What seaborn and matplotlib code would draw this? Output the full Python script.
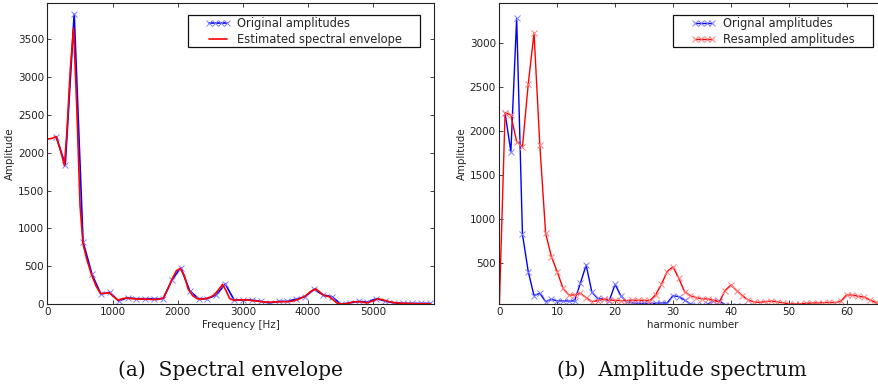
import numpy as np
import pandas as pd
import matplotlib
matplotlib.use("Agg")
import matplotlib.pyplot as plt
from matplotlib.patches import Rectangle
import seaborn as sns

# ---------------- data: (a) spectral envelope ----------------
harm_freq_hz = [137, 273, 410, 546, 683, 819, 956, 1092, 1229, 1365, 1502, 1638,
                1775, 1911, 2048, 2184, 2321, 2457, 2594, 2730, 2867, 3003, 3140,
                3276, 3413, 3549, 3686, 3822, 3959, 4095, 4232, 4368, 4505, 4641,
                4778, 4914, 5051, 5187, 5324, 5460, 5597, 5733, 5870]
orig_amp_a = [2205, 1843, 3832, 824, 393, 132, 155, 40, 83, 70, 70, 70,
              70, 317, 480, 176, 70, 70, 119, 265, 53, 53, 53,
              35, 13, 35, 35, 66, 97, 194, 120, 97, 0, 13,
              35, 26, 70, 40, 13, 10, 8, 8, 8]

env_freq_hz = [0, 70, 132, 200, 260, 300, 350, 400, 450, 500, 545, 600, 680, 750,
               816, 880, 947, 1010, 1084, 1150, 1211, 1300, 1400, 1500, 1600, 1700,
               1780, 1850, 1920, 1980, 2040, 2100, 2160, 2230, 2300, 2400, 2500,
               2560, 2620, 2690, 2740, 2800, 2860, 2950, 3050, 3150, 3250, 3350,
               3450, 3550, 3650, 3750, 3850, 3950, 4050, 4120, 4180, 4250, 4320,
               4380, 4450, 4520, 4600, 4700, 4800, 4900, 5000, 5070, 5150, 5250,
               5350, 5450, 5600, 5750, 5880]
env_amp = [2180, 2190, 2215, 2030, 1830, 2300, 3100, 3650, 2600, 1300, 800, 600,
           380, 230, 140, 140, 150, 100, 50, 70, 80, 70, 65, 65, 60, 60, 80, 200,
           340, 440, 470, 380, 200, 110, 70, 65, 90, 120, 180, 260, 180, 70, 50,
           55, 55, 45, 35, 25, 25, 30, 30, 35, 60, 100, 170, 200, 160, 110, 100,
           60, 10, 0, 5, 30, 30, 15, 40, 70, 55, 30, 15, 10, 5, 3, 3]

# ---------------- data: (b) amplitude spectrum ----------------
harm_num_orig = list(range(1, 44))
orig_amp_b = [2205, 1768, 3284, 830, 405, 132, 159, 64, 90, 72, 72, 72, 72,
              272, 480, 170, 100, 95, 75, 260, 130, 64, 50, 45, 45, 42, 45,
              50, 48, 132, 120, 83, 37, 25, 20, 35, 72, 72, 30, 15, 10, 10, 10]
harm_num_res = list(range(0, 67))
res_amp_b = [0, 2211, 2185, 1882, 1822, 2538, 3114, 1844, 841, 575, 405, 216,
             140, 140, 159, 109, 64, 75, 94, 83, 78, 75, 75, 80, 80, 78, 75,
             140, 261, 405, 461, 330, 177, 132, 110, 95, 95, 80, 60, 189, 253,
             189, 132, 83, 60, 55, 65, 70, 62, 50, 40, 38, 40, 45, 48, 50, 52,
             55, 52, 70, 140, 140, 124, 117, 83, 56, 20]

# ---------------- styling ----------------
sns.set_style("ticks")
plt.rcParams.update({
    "font.family": ["DejaVu Sans"],
    "xtick.direction": "in", "ytick.direction": "in",
    "xtick.top": True, "ytick.right": True,
    "xtick.major.size": 3, "ytick.major.size": 3,
    "xtick.major.width": 0.6, "ytick.major.width": 0.6,
    "xtick.major.pad": 2.5, "ytick.major.pad": 2.5,
    "xtick.labelsize": 7.5, "ytick.labelsize": 7.5,
    "axes.labelsize": 7.4,
    "axes.edgecolor": "#222222", "axes.linewidth": 0.8,
    "xtick.color": "#222222", "ytick.color": "#222222",
})

W, H = 879, 390
fig = plt.figure(figsize=(W / 100, H / 100), dpi=100)

def px_axes(x0, x1, ytop, ybot):
    return [x0 / W, 1 - ybot / H, (x1 - x0) / W, (ybot - ytop) / H]

axA = fig.add_axes(px_axes(47.5, 434, 2.7, 304))
axB = fig.add_axes(px_axes(499.3, 886, 2.7, 304))

BLUE, RED = "#0000ff", "#ff0000"
BLUE_M, RED_M = "#7f7fff", "#ff7f7f"

dfa = pd.DataFrame({"f": harm_freq_hz, "a": orig_amp_a})
dfe = pd.DataFrame({"f": env_freq_hz, "a": env_amp})
sns.lineplot(data=dfa, x="f", y="a", ax=axA, color=BLUE, lw=1.2, marker="x",
             markersize=5, markeredgewidth=0.7, markeredgecolor=BLUE_M,
             label="Original amplitudes", sort=False)
sns.lineplot(data=dfe, x="f", y="a", ax=axA, color=RED, lw=1.2,
             label="Estimated spectral envelope", sort=False)
axA.set_xlim(0, 5937)
axA.set_ylim(0, 3984)
axA.set_xticks([0, 1000, 2000, 3000, 4000, 5000])
axA.set_yticks([0, 500, 1000, 1500, 2000, 2500, 3000, 3500])
axA.set_xlabel("Frequency [Hz]", labelpad=2)
axA.set_ylabel("Amplitude", labelpad=2)

dfb1 = pd.DataFrame({"h": harm_num_orig, "a": orig_amp_b})
dfb2 = pd.DataFrame({"h": harm_num_res, "a": res_amp_b})
sns.lineplot(data=dfb1, x="h", y="a", ax=axB, color=BLUE, lw=1.0, marker="x",
             markersize=5, markeredgewidth=0.7, markeredgecolor=BLUE_M,
             label="Orignal amplitudes", sort=False)
sns.lineplot(data=dfb2, x="h", y="a", ax=axB, color=RED, lw=1.0, marker="x",
             markersize=5, markeredgewidth=0.7, markeredgecolor=RED_M,
             label="Resampled amplitudes", sort=False)
axB.set_xlim(0, 66.8)
axB.set_ylim(37, 3461)
axB.set_xticks([0, 10, 20, 30, 40, 50, 60])
axB.set_yticks([500, 1000, 1500, 2000, 2500, 3000])
axB.set_xlabel("harmonic number", labelpad=2)
axB.set_ylabel("Amplitude", labelpad=2)

for ax in (axA, axB):
    for s in ax.spines.values():
        s.set_visible(True)

# legends (frame drawn separately: wide horizontal, tight vertical padding)
DX = 16.5
legs = []
for ax, right_px in ((axA, 426.0), (axB, 878.5)):
    leg = ax.legend(loc="upper right",
                    bbox_to_anchor=((right_px - DX) / W, 1 - 9.3 / H),
                    bbox_transform=fig.transFigure, frameon=False,
                    fontsize=8.3, numpoints=4, handlelength=2.1,
                    handletextpad=0.6, labelspacing=0.25, borderpad=0.15)
    legs.append((ax, leg))

fig.canvas.draw()
inv = fig.transFigure.inverted()
for ax, leg in legs:
    bb = leg.get_window_extent()
    (fx0, fy0) = inv.transform((bb.x0 - DX, bb.y0))
    (fx1, fy1) = inv.transform((bb.x1 + DX, bb.y1))
    rect = Rectangle((fx0, fy0), fx1 - fx0, fy1 - fy0, transform=fig.transFigure,
                     facecolor="white", edgecolor="#111111", lw=0.9, zorder=4.5,
                     clip_on=False)
    ax.add_artist(rect)
    leg.set_zorder(5)

# captions
cap_kw = dict(family=["DejaVu Serif"], fontsize=14.5, ha="center", va="center",
              color="#111111")
fig.text(230.5 / W, 1 - 370 / H, "(a)  Spectral envelope", **cap_kw)
fig.text(682 / W, 1 - 370 / H, "(b)  Amplitude spectrum", **cap_kw)

fig.savefig("out.png", dpi=100)
